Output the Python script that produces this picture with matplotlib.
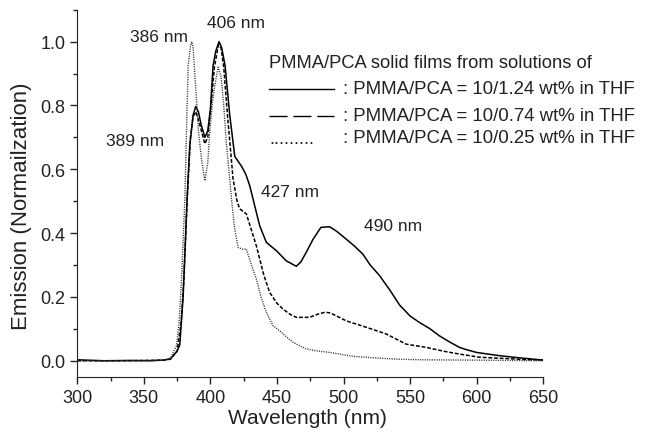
import matplotlib
matplotlib.use('Agg')
import matplotlib.pyplot as plt
from matplotlib.ticker import MultipleLocator

plt.rcParams['font.family'] = ['Liberation Sans', 'DejaVu Sans']

# PMMA/PCA = 10/1.24 wt%
wl_a = [300, 320, 340, 355, 365, 370, 375, 377, 379.5, 382.5, 384.5, 387, 389, 391, 393, 395.8, 398, 400,
        402, 404, 406.5, 408.5, 411, 414.5, 418.3, 423.3, 426.5, 429.5, 432, 437, 442, 449.5, 457, 464.5, 468,
        472, 477, 483, 489.5, 495, 502, 508, 514.5, 520, 527, 535, 542, 550, 557, 565, 572, 580, 587, 592,
        600, 610, 617, 630, 640, 650]
em_a = [0.003, 0.0, 0.001, 0.0, 0.002, 0.006, 0.03, 0.05, 0.20, 0.51, 0.674, 0.77, 0.797, 0.78, 0.74, 0.70,
        0.72, 0.79, 0.925, 0.97, 1.0, 0.98, 0.925, 0.77, 0.64, 0.61, 0.585, 0.549, 0.507, 0.423, 0.371, 0.345,
        0.313, 0.296, 0.31, 0.34, 0.38, 0.418, 0.42, 0.405, 0.381, 0.36, 0.334, 0.30, 0.267, 0.22, 0.175,
        0.14, 0.12, 0.10, 0.078, 0.058, 0.042, 0.035, 0.026, 0.02, 0.016, 0.01, 0.006, 0.002]

# PMMA/PCA = 10/0.74 wt%
wl_b = [300, 340, 365, 370, 375, 378, 380, 382.5, 385, 387, 389, 392, 395.8, 398, 400, 403, 406, 408, 410,
        413, 417, 420, 422, 427, 430, 434.5, 440, 444.5, 450, 454.5, 460, 464.5, 474.5, 480, 486, 490, 502,
        517, 532, 547, 562, 575, 587, 602, 617, 635, 650]
em_b = [0.0, 0.0, 0.002, 0.005, 0.03, 0.12, 0.25, 0.50, 0.70, 0.765, 0.78, 0.74, 0.68, 0.70, 0.78, 0.92,
        0.99, 0.98, 0.92, 0.76, 0.57, 0.50, 0.476, 0.46, 0.42, 0.36, 0.27, 0.214, 0.18, 0.162, 0.145, 0.136,
        0.136, 0.145, 0.152, 0.150, 0.125, 0.105, 0.084, 0.052, 0.042, 0.030, 0.021, 0.011, 0.008, 0.004,
        0.002]

# PMMA/PCA = 10/0.25 wt%
wl_c = [300, 340, 365, 370, 374.5, 376.5, 378.3, 380.8, 382, 383.3, 385, 386, 387, 389.5, 391, 393.3, 395.8,
        398, 399.5, 401.5, 403.3, 405.8, 408, 410, 412, 414.5, 416, 418, 420.8, 424, 427, 430, 434.5, 438,
        442, 447, 452, 457, 462, 467, 472, 480, 489.5, 500, 507, 520, 539.5, 560, 600, 650]
em_c = [0.0, 0.0, 0.002, 0.008, 0.047, 0.12, 0.256, 0.507, 0.716, 0.925, 0.985, 1.0, 0.98, 0.82, 0.72, 0.632,
        0.564, 0.62, 0.716, 0.81, 0.862, 0.92, 0.89, 0.80, 0.68, 0.57, 0.50, 0.42, 0.355, 0.35, 0.35, 0.31,
        0.256, 0.20, 0.152, 0.11, 0.094, 0.075, 0.058, 0.047, 0.037, 0.031, 0.026, 0.019, 0.014, 0.01,
        0.005, 0.003, 0.002, 0.0]

peak_labels = ['386 nm', '406 nm', '389 nm', '427 nm', '490 nm']
peak_label_pos = [(361.3, 1.015), (419.5, 1.059), (343.3, 0.69), (459.6, 0.529), (537.0, 0.425)]

legend_title = 'PMMA/PCA solid films from solutions of'
legend_rows = [': PMMA/PCA = 10/1.24 wt% in THF',
               ': PMMA/PCA = 10/0.74 wt% in THF',
               ': PMMA/PCA = 10/0.25 wt% in THF']
legend_row_y = [0.852, 0.768, 0.700]

fig = plt.figure(figsize=(6.45, 4.35), dpi=100)
ax = fig.add_axes([0.1198, 0.1317, 0.7225, 0.8437])

ax.plot(wl_a, em_a, color='black', linewidth=1.1, linestyle='solid')
ax.plot(wl_b, em_b, color='black', linewidth=1.1, linestyle=(0, (2.5, 1.2)))
ax.plot(wl_c, em_c, color='#333333', linewidth=1.0, linestyle=(0, (0.8, 0.9)))

ax.set_xlim(300, 650)
ax.set_ylim(-0.05, 1.10)
ax.xaxis.set_major_locator(MultipleLocator(50))
ax.xaxis.set_minor_locator(MultipleLocator(25))
ax.yaxis.set_major_locator(MultipleLocator(0.2))
ax.yaxis.set_minor_locator(MultipleLocator(0.1))
ax.yaxis.set_major_formatter(plt.FormatStrFormatter('%.1f'))
ax.tick_params(which='major', direction='out', length=5, width=1, labelsize=13, colors='#222222')
ax.tick_params(which='minor', direction='out', length=3, width=1, colors='#222222')
ax.spines['top'].set_visible(False)
ax.spines['right'].set_visible(False)
for s in ('left', 'bottom'):
    ax.spines[s].set_color('#222222')

ax.set_xlabel('Wavelength (nm)', fontsize=15, color='#222222')
ax.set_ylabel('Emission (Normailzation)', fontsize=16, color='#222222')
ax.xaxis.set_label_coords(0.493, -0.085)
ax.yaxis.set_label_coords(-0.097, 0.468)

for txt, (x, y) in zip(peak_labels, peak_label_pos):
    ax.text(x, y, txt, fontsize=12.5, ha='center', va='center', color='#222222')

# legend drawn by hand: title, sample lines and row texts
ax.text(444.0, 0.935, legend_title, fontsize=13.2, ha='left', va='center', color='#222222')
ax.plot([444.0, 493.0], [legend_row_y[0]] * 2, color='black', linewidth=1.0, clip_on=False)
ax.plot([444.0, 493.0], [legend_row_y[1]] * 2, color='black', linewidth=1.0,
        linestyle=(0, (13.0, 4.2)), clip_on=False)
ax.text(444.0, legend_row_y[2] - 0.003, '.........', fontsize=13.2, ha='left', va='center', color='#222222')
for txt, y in zip(legend_rows, legend_row_y):
    ax.text(499.5, y, txt, fontsize=13.4, ha='left', va='center', color='#222222')

fig.savefig('out.png', dpi=100)
